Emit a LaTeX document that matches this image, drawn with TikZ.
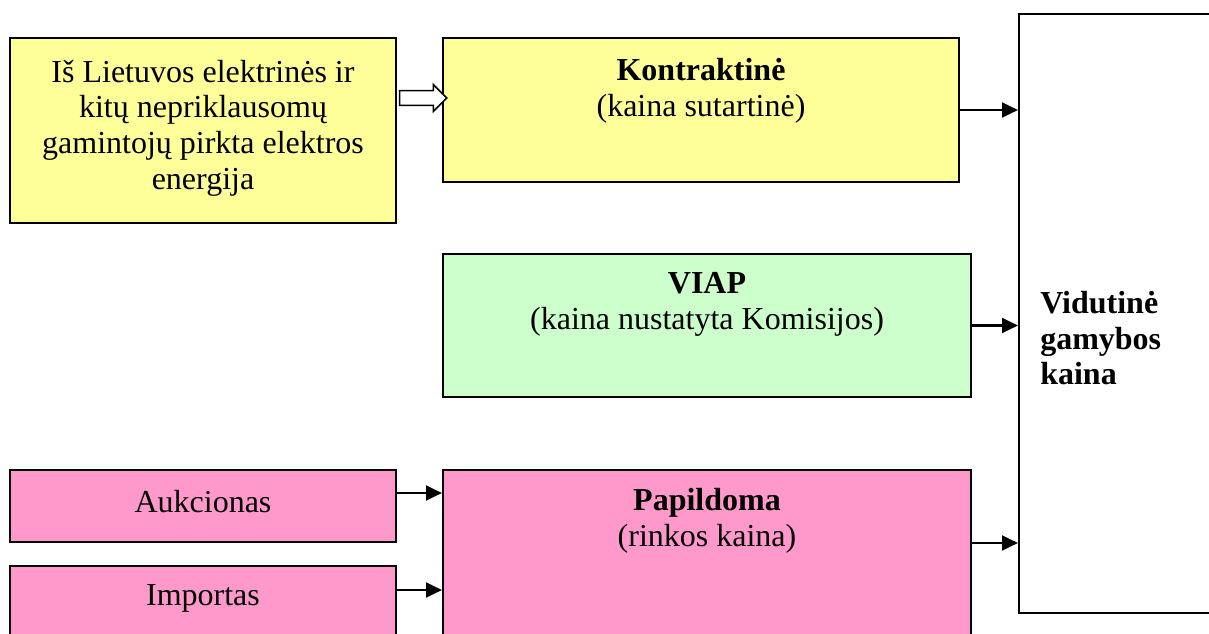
\documentclass[tikz,border=0pt]{standalone}
\usepackage{fontspec}
\setmainfont{Liberation Serif}
\usepackage{tikz}
\usetikzlibrary{arrows.meta,positioning,calc,shapes.arrows}
\definecolor{boxyellow}{RGB}{255,255,153}
\definecolor{boxgreen}{RGB}{204,255,204}
\definecolor{boxpink}{RGB}{255,153,204}
\tikzset{
  box/.style={draw, line width=1.5pt, inner sep=0pt},
  txt/.style={align=center, inner sep=0pt},
  arr/.style={line width=2.2pt, -{Triangle[length=12pt,width=11pt]}},
  hollow arrow/.style={single arrow, draw, fill=white, line width=1.2pt,
    inner xsep=0pt, inner ysep=4.9pt, minimum width=18.75pt,
    single arrow head extend=4.5pt}
}

\begin{document}
\begin{tikzpicture}[x=0.75pt,y=-0.75pt,font=\fontsize{24}{26.8}\selectfont]
    \useasboundingbox (0,0) rectangle (1209,634);
    \clip (0,0) rectangle (1209,634);
    % boxes
    \node[box, fill=boxyellow, minimum width=289.5pt, minimum height=138.75pt] (src) at (203,130.5) {};
    \node[box, fill=boxyellow, minimum width=387pt, minimum height=108pt] (kontr) at (701,110) {};
    \node[box, fill=boxgreen, minimum width=396pt, minimum height=107.25pt] (viap) at (707,325.5) {};
    \node[box, fill=boxpink, minimum width=396pt, minimum height=187.5pt] (papild) at (707,595) {};
    \node[box, fill=boxpink, minimum width=289.5pt, minimum height=54pt] (auk) at (203,506) {};
    \node[box, fill=boxpink, minimum width=289.5pt, minimum height=57pt] (imp) at (203,604) {};
    \node[box, fill=white, minimum width=180.75pt, minimum height=449.25pt] (avg) at (1139.5,313.5) {};
    % texts
    \node[txt] (srctext) at (203,128) {Iš Lietuvos elektrinės ir\\kitų nepriklausomų\\gamintojų pirkta elektros\\energija};
    \node[txt, below=15.75pt of kontr.north] (kontrtext) {\textbf{Kontraktinė}\\(kaina sutartinė)};
    \node[txt, below=14.6pt of viap.north] (viaptext) {\textbf{VIAP}\\(kaina nustatyta Komisijos)};
    \node[txt, below=14.25pt of papild.north] (papildtext) {\textbf{Papildoma}\\(rinkos kaina)};
    \node[txt] (auktext) at (203,502) {Aukcionas};
    \node[txt] (imptext) at (203,598) {Importas};
    \node[txt, anchor=north west, align=left] (avgtext) at (1040,291) {\textbf{Vidutinė}\\\textbf{gamybos}\\\textbf{kaina}};
    % arrows
    \node[hollow arrow, minimum height=35.25pt] (feed) at ($(src.east |- 0,98)!0.5!(kontr.west |- 0,98)$) {};
    \draw[arr] (kontr.east) -- (kontr.east -| avg.west);
    \draw[arr] (viap.east) -- (viap.east -| avg.west);
    \draw[arr] (papild.east |- 0,543) -- (avg.west |- 0,543);
    \draw[arr] (auk.east |- 0,493) -- (papild.west |- 0,493);
    \draw[arr] (imp.east |- 0,590) -- (papild.west |- 0,590);
\end{tikzpicture}
\end{document}
